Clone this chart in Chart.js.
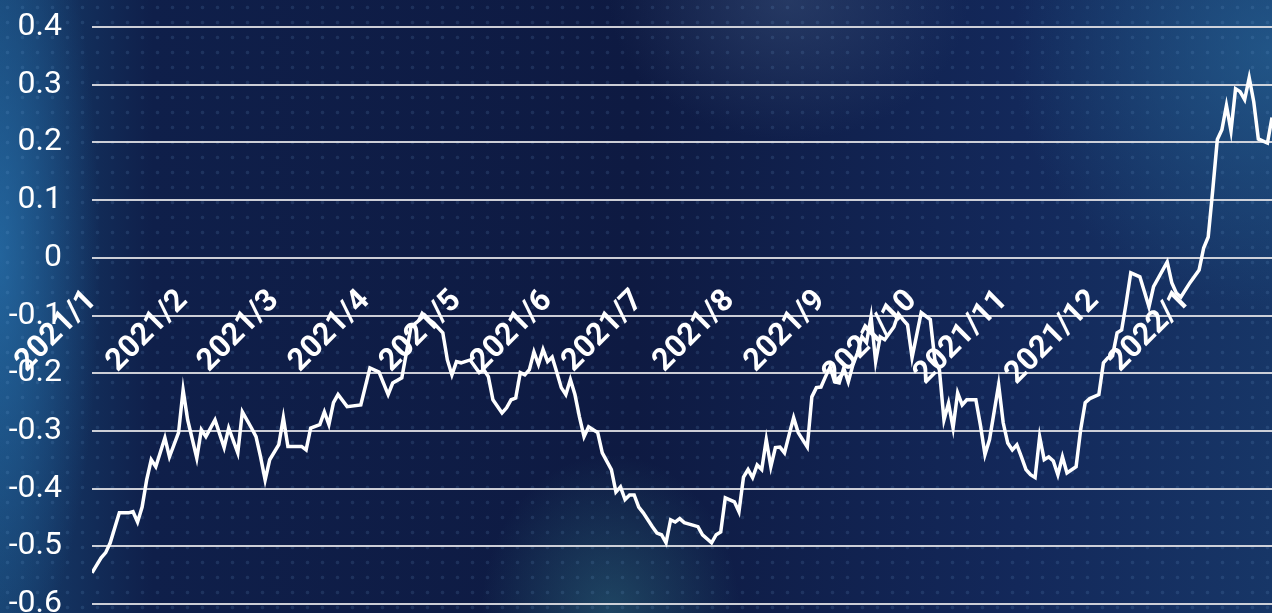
<!DOCTYPE html>
<html>
<head>
<meta charset="utf-8">
<script src="https://cdn.jsdelivr.net/npm/chart.js@4.4.1/dist/chart.umd.min.js"></script>
<style>
  html, body { margin: 0; padding: 0; overflow: hidden; background: #0e1a42; }
  #wrap {
    position: relative;
    width: 1272px;
    height: 640px;
    background:
      radial-gradient(circle, rgba(120, 170, 220, 0.14) 1.4px, transparent 2.2px) 0 0 / 15px 15px,
      radial-gradient(ellipse 100px 420px at 0% 40%, rgba(40, 115, 175, 0.7), transparent),
      radial-gradient(ellipse 260px 260px at 100% 8%, rgba(40, 105, 155, 0.6), transparent),
      radial-gradient(ellipse 180px 140px at 62% 0%, rgba(70, 95, 135, 0.4), transparent),
      radial-gradient(ellipse 130px 160px at 48% 96%, rgba(70, 170, 175, 0.3), transparent),
      linear-gradient(90deg, #17406e 0%, #0f1f4a 12%, #0e1a42 50%, #13285a 80%, #173667 100%);
  }
</style>
</head>
<body>
<div id="wrap"><canvas id="grafico"></canvas></div>
<script>
// indice de dia de cotizacion y valor leido
const days = [
  0, 2, 3, 4, 6, 8, 9, 10, 11, 12, 13, 14, 16, 17, 19, 20, 21, 23, 24, 25,
  27, 29, 30, 32, 33, 35, 36, 37, 38, 39, 41, 42, 43, 46, 47, 48, 50, 51, 52, 53,
  54, 56, 59, 61, 63, 65, 66, 68, 69, 70, 72, 73, 74, 75, 77, 78, 79, 80, 81, 83,
  85, 86, 87, 88, 90, 91, 92, 93, 94, 95, 96, 97, 98, 99, 100, 101, 102, 103, 104, 105,
  106, 107, 108, 109, 110, 111, 112, 114, 115, 116, 117, 118, 119, 120, 121, 123, 124, 125, 126, 127,
  128, 129, 130, 133, 134, 136, 137, 138, 139, 141, 142, 143, 144, 145, 146, 147, 148, 149, 150, 151,
  152, 153, 154, 155, 157, 158, 159, 160, 161, 162, 163, 164, 165, 166, 167, 168, 169, 170, 171, 172,
  173, 174, 176, 177, 178, 179, 180, 182, 184, 185, 186, 187, 188, 189, 190, 191, 192, 194, 195, 196,
  197, 199, 200, 201, 202, 203, 204, 205, 206, 207, 208, 209, 210, 211, 212, 213, 214, 216, 217, 218,
  219, 221, 222, 223, 224, 225, 226, 227, 228, 230, 232, 233, 236, 237, 238, 239, 241, 243, 244, 245,
  246, 247, 248, 249, 250, 251, 252, 253, 254, 255, 256, 258, 259
];
const values = [
  -0.546, -0.520, -0.511, -0.494, -0.442, -0.442, -0.440, -0.458, -0.432, -0.385, -0.350, -0.362, -0.312, -0.345, -0.303, -0.229, -0.281, -0.347, -0.298, -0.310,
  -0.281, -0.329, -0.295, -0.338, -0.267, -0.295, -0.310, -0.345, -0.385, -0.350, -0.324, -0.277, -0.327, -0.327, -0.333, -0.295, -0.289, -0.267, -0.289, -0.251,
  -0.237, -0.258, -0.255, -0.191, -0.198, -0.237, -0.217, -0.208, -0.165, -0.120, -0.107, -0.099, -0.107, -0.113, -0.130, -0.177, -0.203, -0.180, -0.182, -0.177,
  -0.199, -0.194, -0.206, -0.246, -0.269, -0.260, -0.246, -0.243, -0.199, -0.203, -0.194, -0.163, -0.185, -0.159, -0.180, -0.172, -0.198, -0.225, -0.237, -0.211,
  -0.237, -0.276, -0.310, -0.293, -0.298, -0.303, -0.338, -0.367, -0.406, -0.397, -0.419, -0.411, -0.411, -0.432, -0.442, -0.466, -0.477, -0.480, -0.494, -0.454,
  -0.458, -0.452, -0.459, -0.466, -0.480, -0.494, -0.480, -0.475, -0.416, -0.423, -0.440, -0.380, -0.367, -0.381, -0.359, -0.367, -0.315, -0.362, -0.329, -0.328,
  -0.338, -0.307, -0.277, -0.303, -0.328, -0.241, -0.225, -0.224, -0.206, -0.189, -0.215, -0.217, -0.191, -0.215, -0.186, -0.165, -0.137, -0.147, -0.102, -0.180,
  -0.137, -0.142, -0.120, -0.097, -0.107, -0.116, -0.173, -0.095, -0.107, -0.177, -0.194, -0.281, -0.252, -0.295, -0.234, -0.255, -0.246, -0.246, -0.290, -0.341,
  -0.315, -0.220, -0.286, -0.321, -0.333, -0.324, -0.345, -0.367, -0.376, -0.381, -0.310, -0.350, -0.345, -0.352, -0.376, -0.345, -0.373, -0.362, -0.298, -0.251,
  -0.244, -0.237, -0.182, -0.173, -0.170, -0.130, -0.125, -0.078, -0.026, -0.033, -0.085, -0.050, -0.007, -0.043, -0.061, -0.068, -0.043, -0.021, 0.017, 0.036,
  0.118, 0.205, 0.222, 0.264, 0.220, 0.293, 0.288, 0.274, 0.312, 0.270, 0.206, 0.199, 0.243
];

const monthLabels = [
  "2021/1", "2021/2", "2021/3", "2021/4", "2021/5", "2021/6", "2021/7",
  "2021/8", "2021/9", "2021/10", "2021/11", "2021/12", "2022/1"
];
const monthDays = [0, 20, 40, 60, 80, 100, 120, 140, 160, 180, 200, 220, 240];
const lastDay = 259;

const yTicks = [0.4, 0.3, 0.2, 0.1, 0, -0.1, -0.2, -0.3, -0.4, -0.5, -0.6];

const puntos = days.map((d, i) => ({ x: d, y: values[i] }));

const ctx = document.getElementById("grafico").getContext("2d");
new Chart(ctx, {
  type: "line",
  data: {
    datasets: [
      {
        data: puntos,
        borderColor: "#ffffff",
        borderWidth: 3.5,
        pointRadius: 0,
        tension: 0,
      },
    ],
  },
  options: {
    responsive: true,
    maintainAspectRatio: false,
    animation: false,
    layout: { padding: { top: 27, bottom: 36, left: 0, right: 0 } },
    plugins: { legend: { display: false }, tooltip: { enabled: false } },
    scales: {
      x: {
        type: "linear",
        min: 0,
        max: lastDay,
        position: { y: 0 },
        // marcas invisibles: solo separan las etiquetas del eje
        grid: {
          display: true,
          drawOnChartArea: false,
          drawTicks: true,
          tickLength: 25,
          tickColor: "rgba(0,0,0,0)",
        },
        border: { display: false },
        afterBuildTicks: (scale) => {
          scale.ticks = monthDays.map((d) => ({ value: d }));
        },
        ticks: {
          autoSkip: false,
          minRotation: 45,
          maxRotation: 45,
          padding: 0,
          color: "#ffffff",
          font: { family: "Roboto", size: 31, weight: "bold" },
          callback: (value) => monthLabels[monthDays.indexOf(value)],
        },
      },
      y: {
        min: -0.6,
        max: 0.4,
        afterBuildTicks: (scale) => {
          scale.ticks = yTicks.map((v) => ({ value: v }));
        },
        afterFit: (scale) => {
          scale.width = 92;
        },
        grid: {
          color: "rgba(225, 225, 230, 0.9)",
          lineWidth: 2,
          drawTicks: true,
          tickLength: 30,
          tickColor: "rgba(0,0,0,0)",
        },
        border: { display: false },
        ticks: {
          padding: 0,
          color: "#ffffff",
          font: { family: "Roboto", size: 32 },
          callback: (value) => String(Math.round(value * 10) / 10),
        },
      },
    },
  },
});
</script>
</body>
</html>
